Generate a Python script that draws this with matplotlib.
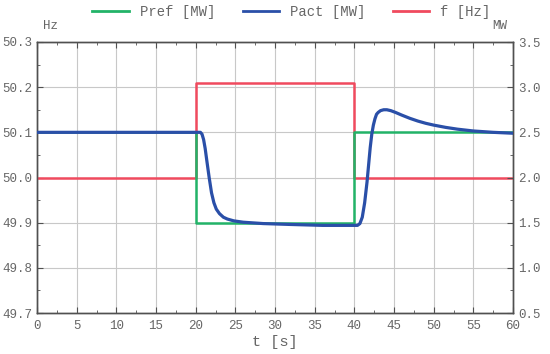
import matplotlib
matplotlib.use("Agg")
import matplotlib.pyplot as plt
import numpy as np
from matplotlib.ticker import MultipleLocator
from matplotlib.lines import Line2D

plt.rcParams['font.family'] = ['Liberation Mono', 'DejaVu Sans Mono']

# Data
t_pref = [0, 20, 20, 40, 40, 60]
pref_mw = [2.5, 2.5, 1.5, 1.5, 2.5, 2.5]
t_f = [0, 20, 20, 40, 40, 60]
f_hz = [50.0, 50.0, 50.21, 50.21, 50.0, 50.0]
t_pact = [0, 10, 20, 20.6, 20.8, 21.0, 21.2, 21.4, 21.7, 22.0, 22.3, 22.6, 23.0, 23.5, 24.0, 24.8,
          26.0, 28.5, 32, 36, 39, 40.4, 40.7, 41.0, 41.3, 41.6, 41.8, 42.0, 42.2, 42.4, 42.6, 42.8,
          43.0, 43.3, 43.7, 44.1, 44.6, 45.2, 46.0, 47.0, 48.0, 49.0, 50.0, 51.5, 53.0, 55.0, 57.5, 60]
pact_mw = [2.5, 2.5, 2.5, 2.5, 2.48, 2.42, 2.32, 2.19, 2.0, 1.83, 1.72, 1.65, 1.60, 1.56, 1.54, 1.52,
           1.505, 1.49, 1.48, 1.47, 1.47, 1.47, 1.49, 1.56, 1.72, 1.95, 2.14, 2.33, 2.48, 2.58, 2.65, 2.70,
           2.72, 2.74, 2.75, 2.75, 2.74, 2.72, 2.69, 2.655, 2.625, 2.60, 2.58, 2.555, 2.535, 2.515, 2.50, 2.49]

x_ticks = list(range(0, 61, 5))
hz_ticks = [49.7, 49.8, 49.9, 50.0, 50.1, 50.2, 50.3]
mw_ticks = [0.5, 1.0, 1.5, 2.0, 2.5, 3.0, 3.5]

green = '#22b368'
blue = '#2a4fa8'
red = '#f04a5e'
txt = '#666666'

fig = plt.figure(figsize=(5.5, 3.54), dpi=100)
ax = fig.add_axes([37/550, 41/354, 476/550, 271/354])
ax2 = ax.twinx()

ax.plot(t_f, f_hz, color=red, lw=1.8, zorder=3)
ax2.plot(t_pref, pref_mw, color=green, lw=1.8, zorder=2)
ax2.plot(t_pact, pact_mw, color=blue, lw=2.3, zorder=3, solid_joinstyle='round')

ax.set_xlim(0, 60)
ax.set_ylim(49.7, 50.3)
ax2.set_ylim(0.5, 3.5)
ax.set_xticks(x_ticks)
ax.set_yticks(hz_ticks)
ax2.set_yticks(mw_ticks)
ax.set_yticklabels([f"{v:.1f}" for v in hz_ticks])
ax2.set_yticklabels([f"{v:.1f}" for v in mw_ticks])
ax.xaxis.set_minor_locator(MultipleLocator(2.5))
ax.yaxis.set_minor_locator(MultipleLocator(0.05))
ax2.yaxis.set_minor_locator(MultipleLocator(0.25))
ax.grid(True, which='major', color='#c8c8c8', lw=0.8)
ax.set_axisbelow(True)

for a in (ax, ax2):
    a.tick_params(which='both', direction='in', colors='#505050', labelcolor=txt, labelsize=9)
    a.tick_params(which='major', length=4)
    a.tick_params(which='minor', length=2.5)
    for s in a.spines.values():
        s.set_color('#505050')
        s.set_linewidth(1.0)
ax.tick_params(top=True, which='both')
ax.tick_params(axis='x', pad=5)

ax.set_xlabel('t [s]', color=txt, fontsize=11, labelpad=2)
fig.text(50/550, 1 - 26/354, 'Hz', color=txt, fontsize=9, ha='center', va='center')
fig.text(500/550, 1 - 26/354, 'MW', color=txt, fontsize=9, ha='center', va='center')

handles = [Line2D([], [], color=green, lw=2), Line2D([], [], color=blue, lw=2), Line2D([], [], color=red, lw=2)]
fig.legend(handles, ['Pref [MW]', 'Pact [MW]', 'f [Hz]'], loc='center', bbox_to_anchor=(0.53, 1 - 12/354),
           ncol=3, frameon=False, fontsize=10, labelcolor=txt, handlelength=2.6, columnspacing=2.0,
           handletextpad=0.8)

fig.savefig('out.png', dpi=100)
